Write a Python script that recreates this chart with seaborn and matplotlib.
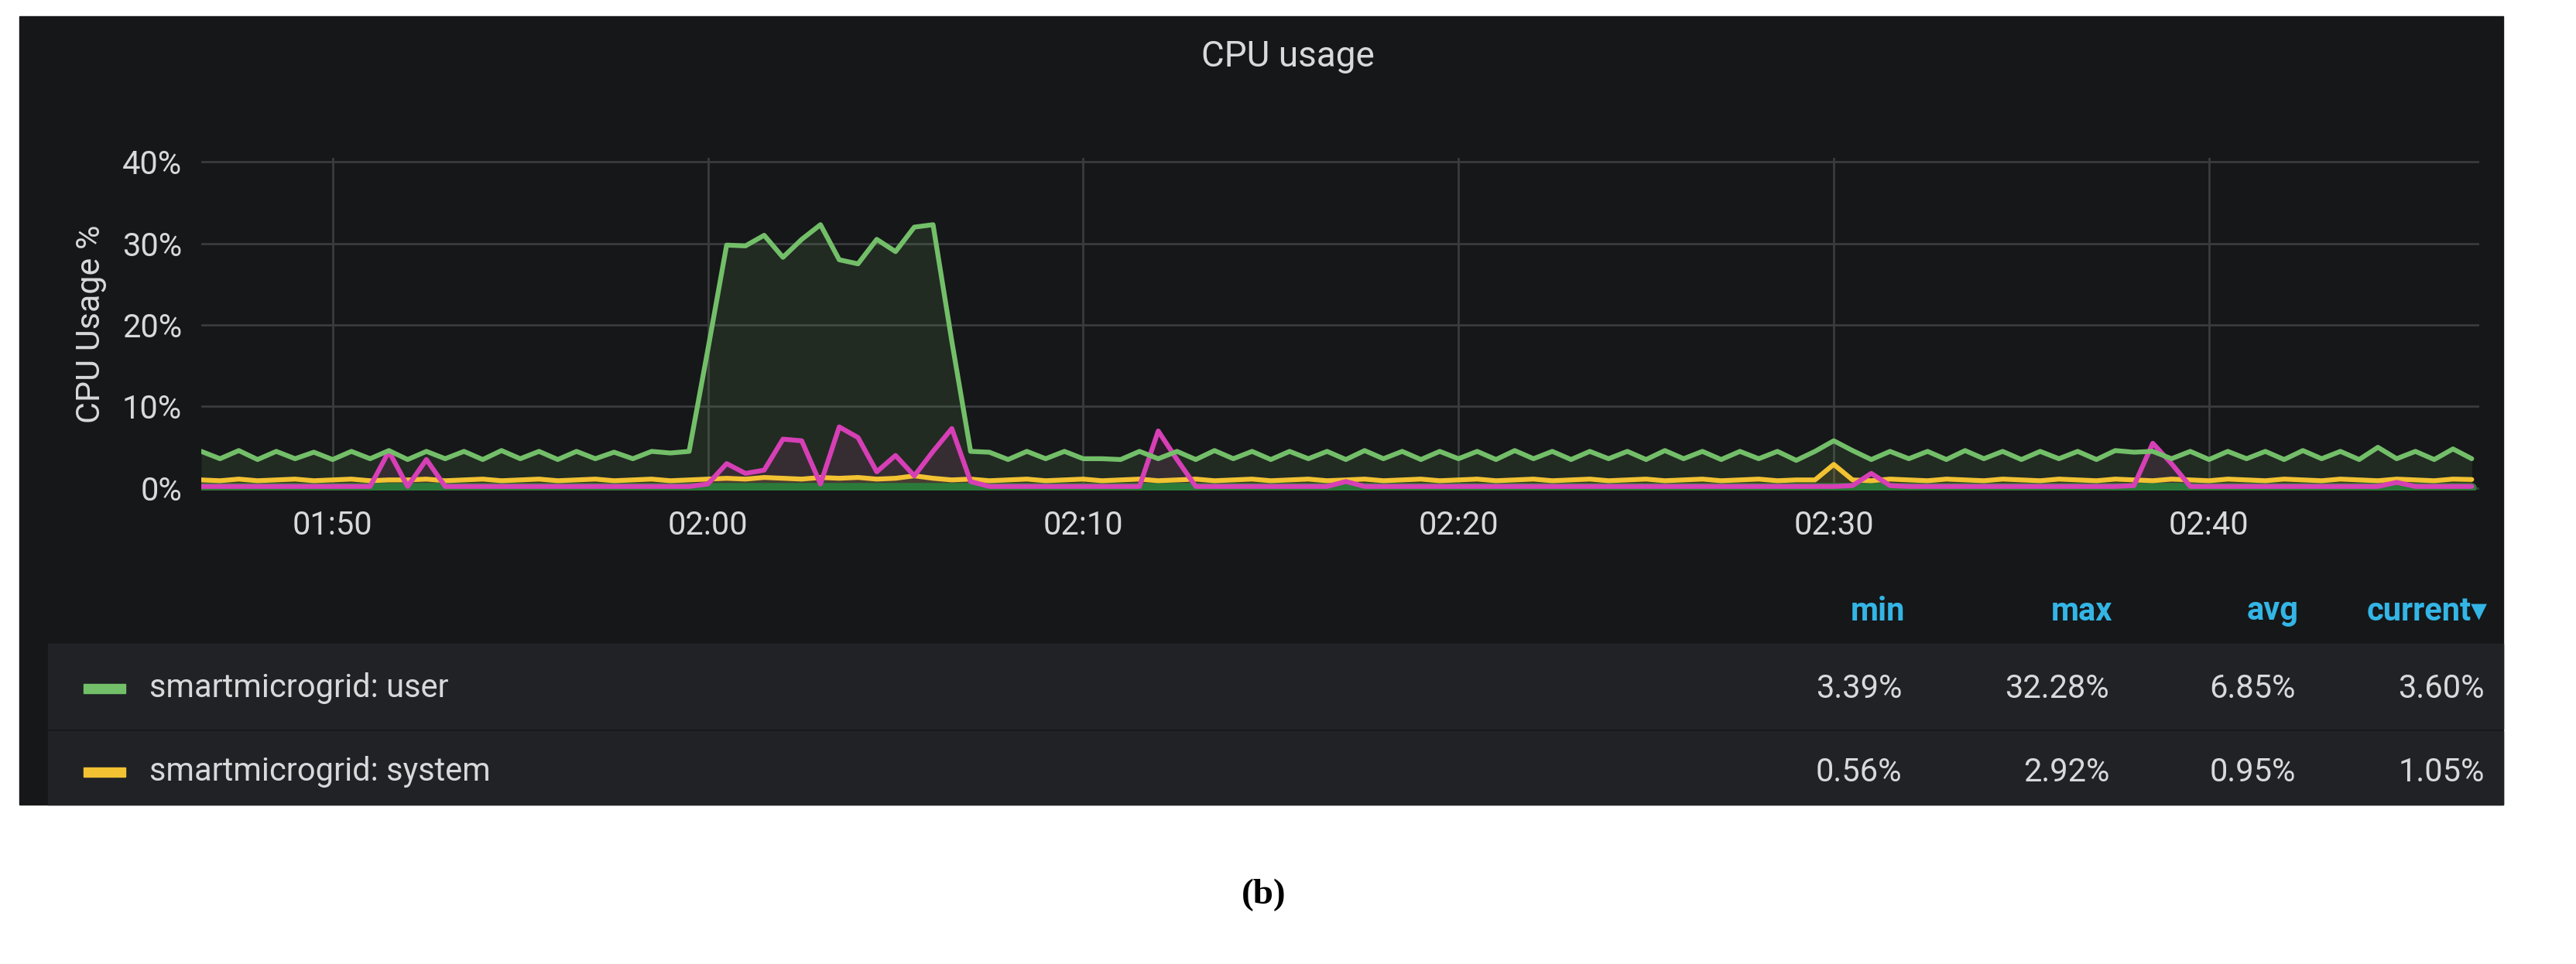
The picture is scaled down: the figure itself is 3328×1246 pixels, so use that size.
import matplotlib
matplotlib.use("Agg")
import matplotlib.pyplot as plt
import matplotlib.patches as mpatches
import seaborn as sns
import numpy as np
import pandas as pd

# sample times, minutes since 00:00 (30 s sampling from 01:46:30 to 02:47:00)
start_min = 106.5
step_min = 0.5

user = [4.5, 3.6, 4.6, 3.5, 4.5, 3.6, 4.4, 3.5, 4.5, 3.6, 4.6, 3.5, 4.5, 3.6, 4.5, 3.5, 4.6, 3.6, 4.5, 3.5,
        4.5, 3.6, 4.4, 3.6, 4.5, 4.3, 4.5, 17.0, 29.8, 29.7, 31.0, 28.3, 30.5, 32.3, 28.0, 27.5, 30.5, 29.0,
        32.0, 32.3, 18.0, 4.5, 4.4, 3.5, 4.5, 3.6, 4.5, 3.6, 3.6, 3.5, 4.5, 3.6, 4.5, 3.5, 4.6, 3.6, 4.5, 3.5,
        4.5, 3.6, 4.5, 3.5, 4.6, 3.6, 4.5, 3.5, 4.5, 3.6, 4.5, 3.5, 4.6, 3.6, 4.5, 3.5, 4.5, 3.6, 4.5, 3.5,
        4.6, 3.6, 4.5, 3.5, 4.5, 3.6, 4.5, 3.4, 4.5, 5.8, 4.6, 3.5, 4.5, 3.6, 4.5, 3.5, 4.6, 3.6, 4.5, 3.5,
        4.5, 3.6, 4.5, 3.5, 4.6, 4.4, 4.5, 3.6, 4.5, 3.5, 4.5, 3.6, 4.5, 3.5, 4.6, 3.6, 4.5, 3.5, 5.0, 3.6,
        4.5, 3.5, 4.8, 3.6]
system = [1.0, 0.9, 1.1, 0.9, 1.0, 1.1, 0.9, 1.0, 1.1, 0.9, 1.0, 1.0, 1.1, 0.9, 1.0, 1.1, 0.9, 1.0, 1.1, 0.9,
          1.0, 1.1, 0.9, 1.0, 1.1, 0.9, 1.0, 1.1, 1.2, 1.1, 1.3, 1.2, 1.1, 1.3, 1.2, 1.3, 1.1, 1.2, 1.5, 1.2,
          1.0, 1.1, 0.9, 1.0, 1.1, 0.9, 1.0, 1.1, 0.9, 1.0, 1.1, 0.9, 1.0, 1.1, 0.9, 1.0, 1.1, 0.9, 1.0, 1.1,
          0.9, 1.0, 1.1, 0.9, 1.0, 1.1, 0.9, 1.0, 1.1, 0.9, 1.0, 1.1, 0.9, 1.0, 1.1, 0.9, 1.0, 1.1, 0.9, 1.0,
          1.1, 0.9, 1.0, 1.1, 0.9, 1.0, 1.0, 2.9, 1.0, 0.9, 1.1, 1.0, 0.9, 1.1, 1.0, 0.9, 1.1, 1.0, 0.9, 1.1,
          1.0, 0.9, 1.1, 1.0, 0.9, 1.1, 1.0, 0.9, 1.1, 1.0, 0.9, 1.1, 1.0, 0.9, 1.1, 1.0, 0.9, 1.1, 1.0, 0.9,
          1.1, 1.05]
other = [0.2, 0.2, 0.2, 0.2, 0.2, 0.2, 0.2, 0.2, 0.2, 0.2, 4.5, 0.2, 3.5, 0.2, 0.2, 0.2, 0.2, 0.2, 0.2, 0.2,
         0.2, 0.2, 0.2, 0.2, 0.2, 0.2, 0.2, 0.5, 3.0, 1.8, 2.2, 6.0, 5.8, 0.5, 7.5, 6.2, 2.0, 4.0, 1.5, 4.5,
         7.3, 0.8, 0.2, 0.2, 0.2, 0.2, 0.2, 0.2, 0.2, 0.2, 0.2, 7.0, 3.5, 0.2, 0.2, 0.2, 0.2, 0.2, 0.2, 0.2,
         0.2, 0.8, 0.2, 0.2, 0.2, 0.2, 0.2, 0.2, 0.2, 0.2, 0.2, 0.2, 0.2, 0.2, 0.2, 0.2, 0.2, 0.2, 0.2, 0.2,
         0.2, 0.2, 0.2, 0.2, 0.2, 0.2, 0.2, 0.2, 0.3, 1.8, 0.3, 0.2, 0.2, 0.2, 0.2, 0.2, 0.2, 0.2, 0.2, 0.2,
         0.2, 0.2, 0.2, 0.3, 5.5, 3.0, 0.2, 0.2, 0.2, 0.2, 0.2, 0.2, 0.2, 0.2, 0.2, 0.2, 0.2, 0.7, 0.2, 0.2,
         0.2, 0.2]
iowait = [0.05] * len(user)

tick_minutes = [110, 120, 130, 140, 150, 160]
tick_labels = ["01:50", "02:00", "02:10", "02:20", "02:30", "02:40"]
y_ticks = [0, 10, 20, 30, 40]
y_labels = ["0%", "10%", "20%", "30%", "40%"]

legend_names = ["smartmicrogrid: user", "smartmicrogrid: system"]
legend_colors = ["#73BF69", "#F2C232"]
stat_headers = ["min", "max", "avg", "current\u25BE"]
stat_rows = [["3.39%", "32.28%", "6.85%", "3.60%"],
             ["0.56%", "2.92%", "0.95%", "1.05%"]]

n = len(user)
t = [start_min + step_min * i for i in range(n)]
df = pd.DataFrame({"t": t, "user": user, "system": system[:n], "other": other[:n], "iowait": iowait})

sns.set_theme(style="dark")
plt.rcParams["font.family"] = ["Roboto", "DejaVu Sans"]

W, H = 3328, 1246
fig = plt.figure(figsize=(W / 100, H / 100), dpi=100, facecolor="white")
fig.patches.append(mpatches.Rectangle((25 / W, 1 - 1040 / H), (3234 - 25) / W, (1040 - 21) / H,
                                      transform=fig.transFigure, color="#161719", zorder=-2))
ax = fig.add_axes([260 / W, 1 - 634 / H, (3203 - 260) / W, (634 - 204) / H])
ax.set_zorder(5)
ax.set_facecolor("#161719")

series = [("user", "#73BF69", 0.12), ("other", "#D63FB5", 0.12), ("system", "#F2C232", 0.10)]
for col, c, a in series:
    ax.fill_between(df["t"], 0, df[col], color=c, alpha=a, lw=0)
sns.lineplot(data=df, x="t", y="iowait", ax=ax, color="#2B7A3A", lw=9)
sns.lineplot(data=df, x="t", y="system", ax=ax, color="#F2C232", lw=4.5)
sns.lineplot(data=df, x="t", y="other", ax=ax, color="#D63FB5", lw=4.5)
sns.lineplot(data=df, x="t", y="user", ax=ax, color="#73BF69", lw=4.5)

ax.set_xlim(t[0], 167.2)
ax.set_ylim(-0.3, 40.5)
ax.set_xticks(tick_minutes)
ax.set_xticklabels(tick_labels)
ax.set_yticks(y_ticks)
ax.set_yticklabels(y_labels)
ax.grid(True, color="#3a3b3e", lw=2)
for s in ax.spines.values():
    s.set_visible(False)
ax.tick_params(colors="#D8D9DA", labelsize=30, length=0, pad=18)
ax.set_xlabel("")
ax.set_ylabel("CPU Usage %", color="#D8D9DA", fontsize=31, labelpad=14)

fig.text(0.5, 1 - 73 / H, "CPU usage", ha="center", va="center", color="#D8D9DA", fontsize=33)

# legend table
for y0, y1 in [(832, 942), (945, 1040)]:
    fig.patches.append(mpatches.Rectangle((62 / W, 1 - y1 / H), (3234 - 62) / W, (y1 - y0) / H,
                                          transform=fig.transFigure, color="#202226", zorder=-1))
col_x = [2461, 2729, 2970, 3214]
for x, h in zip(col_x, stat_headers):
    fig.text(x / W, 1 - 790 / H, h, ha="right", va="center", color="#33B5E5", fontsize=30, weight="bold")
for ry, name, c, vals in zip([890, 998], legend_names, legend_colors, stat_rows):
    fig.patches.append(mpatches.Rectangle((108 / W, 1 - (ry + 6) / H), 54 / W, 12 / H,
                                          transform=fig.transFigure, color=c, zorder=1))
    fig.text(193 / W, 1 - ry / H, name, ha="left", va="center", color="#D8D9DA", fontsize=30)
    for x, v in zip(col_x, vals):
        fig.text((x - 4) / W, 1 - ry / H, v, ha="right", va="center", color="#D8D9DA", fontsize=30)

fig.text(1633 / W, 1 - 1157 / H, "(b)", ha="center", va="center", color="black", fontsize=34,
         weight="bold", family=["Liberation Serif", "DejaVu Serif"])

fig.savefig("out.png", dpi=100, facecolor="white")
